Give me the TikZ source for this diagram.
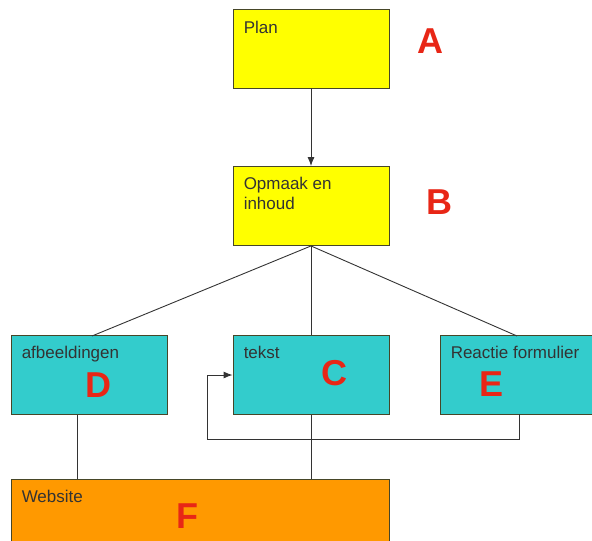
\documentclass[tikz,border=0pt]{standalone}
\usepackage{fontspec}
\setmainfont{Liberation Sans}
\usepackage{xcolor}
\usepackage{tikz}
\usetikzlibrary{positioning, arrows.meta}
\definecolor{geel}{RGB}{255,255,0}
\definecolor{blauwgroen}{RGB}{51,204,204}
\definecolor{oranje}{RGB}{255,153,0}
\definecolor{rood}{RGB}{232,38,22}
\definecolor{rand}{RGB}{70,70,40}
\tikzstyle{blok} = [draw=rand, line width=0.9pt, minimum width=156pt, minimum height=79pt, inner sep=0pt]
\tikzstyle{tekstje} = [inner sep=0pt, align=left, font=\fontsize{17}{20}\selectfont, text=black!80]
\tikzstyle{lijn} = [line width=0.9pt, draw=black!80]
\tikzstyle{arrow} = [lijn,-{Latex[length=9pt,width=7pt]}]
\newcommand{\letr}[1]{{\fontsize{36}{36}\selectfont\bfseries\color{rood} #1}}

\begin{document}
\begin{tikzpicture}[x=1pt,y=-1pt]
    \useasboundingbox (0,0) rectangle (592,541);
    % blokken
    \node[blok, fill=geel] (plan) at (311,48.5) {};
    \node[blok, fill=geel] (opmaak) at (311,206) {};
    \node[blok, fill=blauwgroen] (afb) at (89,375) {};
    \node[blok, fill=blauwgroen] (tekst) at (311,375) {};
    \node[blok, fill=blauwgroen] (reactie) at (518,375) {};
    \node[blok, fill=oranje, minimum width=378pt, minimum height=100pt] (website) at (200,529) {};
    % teksten
    \node[tekstje, below right=12pt and 11pt of plan.north west] (tplan) {Plan};
    \node[tekstje, below right=11pt and 11pt of opmaak.north west] (topmaak) {Opmaak en\\inhoud};
    \node[tekstje, below right=11pt and 11pt of afb.north west] (tafb) {afbeeldingen};
    \node[tekstje, below right=11pt and 11pt of tekst.north west] (ttekst) {tekst};
    \node[tekstje, below right=11pt and 11pt of reactie.north west] (treactie) {Reactie formulier};
    \node[tekstje, below right=11pt and 11pt of website.north west] (twebsite) {Website};
    % letters
    \node (la) at (430,41.5) {\letr{A}};
    \node (lb) at (439,202) {\letr{B}};
    \node (lc) at (334,373) {\letr{C}};
    \node (ld) at (98,385) {\letr{D}};
    \node (le) at (492,384) {\letr{E}};
    \node (lf) at (187,516) {\letr{F}};
    % lijnen
    \coordinate (bd) at (92,336);
    \coordinate (be) at (517,336);
    \coordinate (df) at (77,479);
    \coordinate (eo) at (519,414);
    \coordinate (terug) at (207,439);
    \draw [arrow] (plan.south) -- (opmaak.north);
    \draw [lijn] (opmaak.south) -- (bd);
    \draw [lijn] (opmaak.south) -- (tekst.north);
    \draw [lijn] (opmaak.south) -- (be);
    \draw [lijn] (df |- afb.south) -- (df);
    \draw [lijn] (tekst.south) -- (tekst.south |- website.north);
    \draw [arrow] (eo) |- (terug) |- (tekst.west);
\end{tikzpicture}
\end{document}
